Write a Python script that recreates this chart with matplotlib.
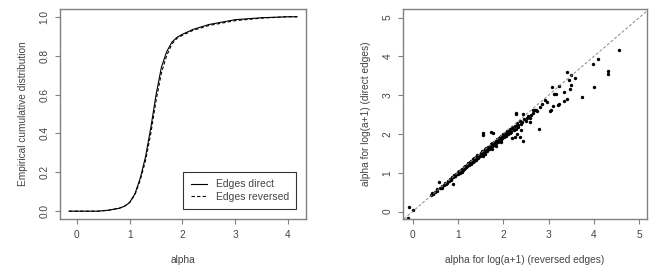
import matplotlib
matplotlib.use("Agg")
import matplotlib.pyplot as plt

plt.rcParams['font.family'] = ['Liberation Sans', 'DejaVu Sans']

# empirical cumulative distributions (left panel)
cdf_x_direct = [-0.15, 0.4, 0.6, 0.8, 0.9, 1.0, 1.1, 1.2, 1.3, 1.4, 1.5, 1.6, 1.7,
                1.8, 1.9, 2.0, 2.2, 2.5, 3.0, 3.5, 4.0, 4.17]
cdf_y_direct = [0.0, 0.0, 0.005, 0.015, 0.025, 0.045, 0.09, 0.17, 0.28, 0.43, 0.60, 0.74, 0.82,
                0.87, 0.895, 0.91, 0.935, 0.96, 0.985, 0.995, 1.0, 1.0]
cdf_x_rev = [-0.15, 0.4, 0.6, 0.8, 0.9, 1.0, 1.1, 1.2, 1.3, 1.4, 1.5, 1.6, 1.7,
             1.8, 1.9, 2.0, 2.2, 2.5, 3.0, 3.5, 4.0, 4.17]
cdf_y_rev = [0.0, 0.0, 0.005, 0.015, 0.025, 0.045, 0.085, 0.16, 0.26, 0.40, 0.57, 0.71, 0.80,
             0.86, 0.89, 0.905, 0.93, 0.955, 0.98, 0.993, 1.0, 1.0]

# alpha pairs (right panel): reversed edges (x) vs direct edges (y)
alpha_rev = [0.40, 0.43, 0.46, 0.50, 0.53, 0.55, 0.60, 0.63, 0.66, 0.70, 0.72, 0.75, 0.78, 0.80,
             0.82, 0.85, 0.87, 0.90, 0.92, 0.94, 0.96, 0.98, 1.00, 1.01, 1.03, 1.05, 1.06, 1.08,
             1.10, 1.11, 1.13, 1.15, 1.16, 1.18, 1.20, 1.21, 1.23, 1.25, 1.26, 1.28, 1.30, 1.31,
             1.33, 1.35, 1.36, 1.38, 1.40, 1.41, 1.43, 1.45, 1.46, 1.48, 1.50, 1.51, 1.53, 1.55,
             1.56, 1.58, 1.60, 1.61, 1.63, 1.65, 1.66, 1.68, 1.70, 1.71, 1.73, 1.75, 1.76, 1.78,
             1.80, 1.81, 1.83, 1.85, 1.86, 1.88, 1.90, 1.91, 1.93, 1.95, 1.96, 1.98, 2.00, 2.02,
             2.04, 2.06, 2.08, 2.10, 2.12, 2.14, 2.16, 2.18, 2.20, 2.23, 2.25, 2.28, 2.30, 2.33,
             2.36, 2.40, 2.45, 2.50, 2.55, 2.60, 2.65, 2.70, 2.75, 2.80,
             1.12, 1.22, 1.32, 1.42, 1.52, 1.62, 1.72, 1.82, 1.92, 2.02, 1.37, 1.47, 1.57, 1.67,
             1.77, 1.87, 1.97, 2.07,
             1.04, 1.14, 1.24, 1.34, 1.44, 1.54, 1.64, 1.74, 1.84, 1.94, 2.04, 2.14, 1.19, 1.29,
             1.39, 1.49, 1.59, 1.69, 1.79, 1.89, 1.99, 2.09, 0.84, 0.94, 0.74, 0.64, 2.22, 2.32,
             2.42, 2.52, 2.62, 2.72,
             1.30, 1.55, 1.75, 1.95, 2.19, 1.85, 1.10, 2.30, 2.40, 2.60,
             4.56, 4.08, 3.97, 4.32, 4.31, 4.00, 3.74, 3.41, 3.50, 3.45, 3.59, 3.49, 3.48, 3.24,
             3.08, 3.33, 3.16, 3.13, 3.40, 3.33, 3.24, 3.21, 3.09, 3.06, 2.97, 2.91, 2.28, 2.43,
             2.66, 2.86, 1.56, 1.56, 1.73, 1.77, 2.29, 2.44, 2.79, 3.03, 0.58, -0.07, 0.01, -0.10,
             0.90, 1.60, 2.26, 2.37]
alpha_dir = [0.42, 0.47, 0.46, 0.50, 0.52, 0.57, 0.60, 0.61, 0.67, 0.69, 0.73, 0.74, 0.78, 0.79,
             0.83, 0.84, 0.88, 0.89, 0.93, 0.92, 0.97, 0.96, 1.01, 0.98, 1.04, 1.03, 1.07, 1.05,
             1.11, 1.08, 1.14, 1.12, 1.17, 1.15, 1.21, 1.17, 1.24, 1.22, 1.27, 1.24, 1.31, 1.27,
             1.35, 1.31, 1.37, 1.34, 1.41, 1.37, 1.45, 1.41, 1.47, 1.43, 1.51, 1.46, 1.55, 1.50,
             1.57, 1.52, 1.61, 1.55, 1.64, 1.59, 1.66, 1.61, 1.70, 1.64, 1.73, 1.68, 1.76, 1.71,
             1.80, 1.74, 1.83, 1.78, 1.86, 1.80, 1.90, 1.83, 1.93, 1.86, 1.96, 1.89, 2.00, 1.93,
             2.03, 1.96, 2.07, 1.99, 2.10, 2.02, 2.14, 2.05, 2.17, 2.10, 2.21, 2.14, 2.27, 2.19,
             2.33, 2.26, 2.39, 2.33, 2.45, 2.42, 2.55, 2.62, 2.58, 2.70,
             1.10, 1.20, 1.29, 1.40, 1.49, 1.58, 1.67, 1.77, 1.87, 1.98, 1.33, 1.44, 1.54, 1.63,
             1.72, 1.83, 1.92, 2.01,
             1.00, 1.09, 1.19, 1.28, 1.37, 1.47, 1.57, 1.66, 1.76, 1.85, 1.95, 2.04, 1.15, 1.24,
             1.34, 1.43, 1.53, 1.62, 1.72, 1.81, 1.91, 2.00, 0.81, 0.91, 0.71, 0.62, 2.12, 2.22,
             2.31, 2.40, 2.50, 2.61,
             1.22, 1.42, 1.60, 1.80, 1.89, 1.70, 1.02, 2.00, 2.10, 2.30,
             4.17, 3.93, 3.81, 3.63, 3.55, 3.21, 2.96, 3.59, 3.51, 3.39, 3.45, 3.27, 3.17, 3.24,
             3.21, 3.09, 3.04, 3.04, 2.90, 2.86, 2.77, 2.75, 2.72, 2.62, 2.83, 2.88, 2.53, 2.52,
             2.62, 2.78, 2.02, 1.98, 2.04, 2.02, 2.51, 1.82, 2.14, 2.58, 0.77, 0.11, 0.04, -0.16,
             0.71, 1.48, 1.92, 1.93]

spine_col = '#808080'
text_col = '#444444'
fs = 7.3

fig = plt.figure(figsize=(6.56, 2.72), dpi=100)
ax1 = fig.add_axes([0.0915, 0.195, 0.375, 0.772])
ax2 = fig.add_axes([0.6143, 0.195, 0.372, 0.772])


def style(ax):
    for s in ax.spines.values():
        s.set_color(spine_col)
        s.set_linewidth(1.0)
    ax.tick_params(colors=spine_col, labelcolor=text_col, labelsize=fs, length=3.6, width=0.8, pad=4)
    for lab in ax.get_yticklabels():
        lab.set_rotation(90)
        lab.set_va('center')


ax1.plot(cdf_x_direct, cdf_y_direct, color='black', lw=0.8, label='Edges direct')
ax1.plot(cdf_x_rev, cdf_y_rev, color='black', lw=0.8, ls=(0, (3, 2)), label='Edges reversed')
ax1.set_xlim(-0.32, 4.34)
ax1.set_ylim(-0.04, 1.04)
ax1.set_xticks([0, 1, 2, 3, 4])
ax1.set_yticks([0.0, 0.2, 0.4, 0.6, 0.8, 1.0])
ax1.set_yticklabels(['0.0', '0.2', '0.4', '0.6', '0.8', '1.0'])
ax1.set_xlabel('alpha', fontsize=fs, color=text_col, labelpad=11)
ax1.set_ylabel('Empirical cumulative distribution', fontsize=fs, color=text_col, labelpad=8)
leg = ax1.legend(loc='lower right', fontsize=7.5, frameon=True, fancybox=False,
                 edgecolor='black', borderaxespad=0.95, handlelength=1.6, handletextpad=0.8,
                 labelspacing=0.25, borderpad=0.7)
leg.get_frame().set_linewidth(0.8)
for t in leg.get_texts():
    t.set_color(text_col)
style(ax1)

ax2.axline((0, 0), slope=1, color='#888888', lw=0.7, ls=(0, (3, 2)))
ax2.scatter(alpha_rev, alpha_dir, s=6, color='black', linewidths=0)
ax2.set_xlim(-0.21, 5.17)
ax2.set_ylim(-0.19, 5.22)
ax2.set_xticks([0, 1, 2, 3, 4, 5])
ax2.set_yticks([0, 1, 2, 3, 4, 5])
ax2.set_xlabel('alpha for log(a+1) (reversed edges)', fontsize=fs, color=text_col, labelpad=11)
ax2.set_ylabel('alpha for log(a+1) (direct edges)', fontsize=fs, color=text_col, labelpad=8)
style(ax2)

fig.savefig('out.png', dpi=100)
